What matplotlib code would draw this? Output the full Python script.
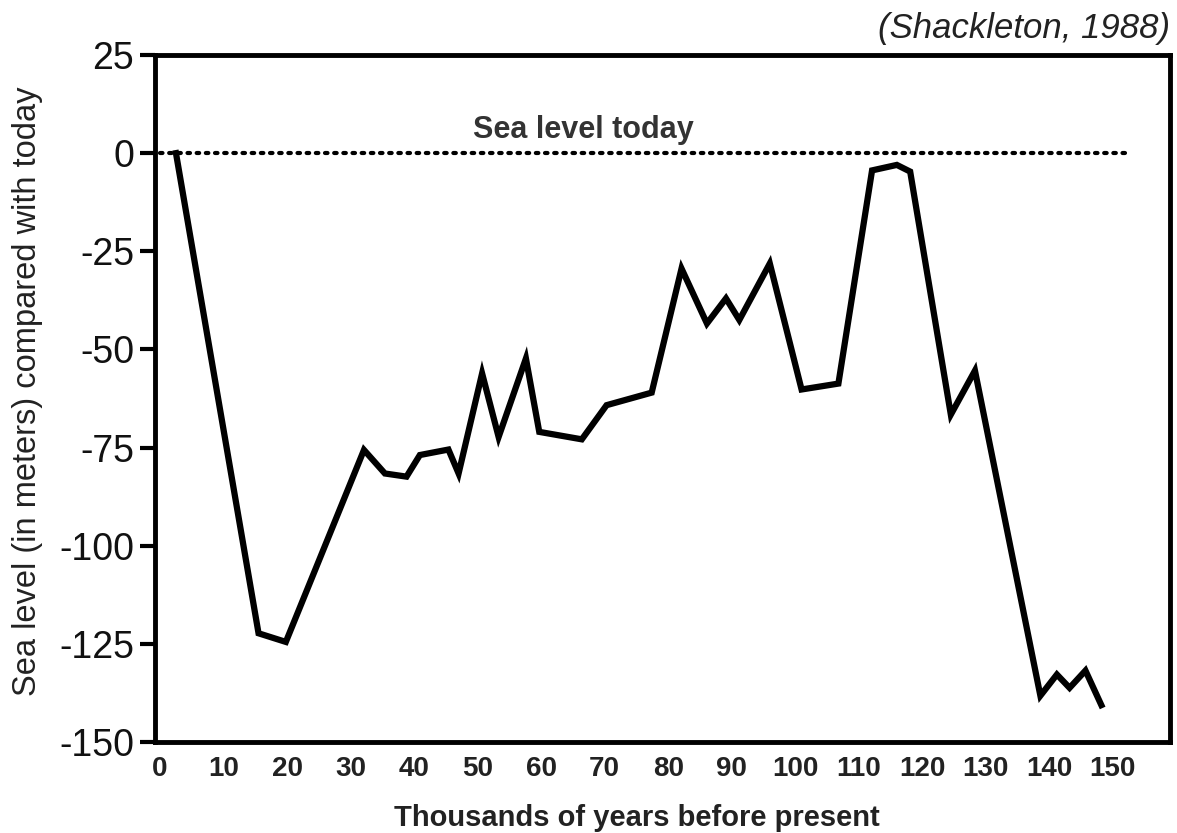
import matplotlib
matplotlib.use('Agg')
import matplotlib.pyplot as plt

# sea level curve
years_ka = [2.5, 15.5, 19.8, 32.1, 35.4, 38.8, 40.9, 45.4, 47.0, 50.7, 53.3, 57.6,
            59.7, 66.4, 70.3, 77.4, 82.1, 86.1, 89.1, 91.2, 96.0, 101.0, 106.8,
            112.1, 116.0, 118.1, 124.5, 128.3, 138.6, 141.2, 143.2, 145.7, 148.2]
sea_level_m = [0, -122.3, -124.5, -75.6, -81.6, -82.4, -76.9, -75.5, -81.6, -56.1, -72.3, -52.3,
               -71.0, -72.9, -64.2, -61.0, -29.4, -43.4, -37.0, -42.5, -28.1, -60.2, -58.7,
               -4.4, -3.0, -4.7, -66.6, -55.4, -138.2, -132.8, -136.2, -131.8, -140.6]

x_ticks = list(range(0, 151, 10))
y_ticks = [25, 0, -25, -50, -75, -100, -125, -150]
today_x = [0, 152]
today_y = [0, 0]

plt.rcParams['font.family'] = ['Liberation Sans', 'DejaVu Sans']
plt.rcParams['axes.unicode_minus'] = False
narrow = ['Liberation Sans Narrow', 'Liberation Sans', 'DejaVu Sans']

fig = plt.figure(figsize=(11.77, 8.33), dpi=100)
ax = fig.add_axes([0.1317, 0.1092, 0.8623, 0.8248])

ax.plot(today_x, today_y, color='black', lw=3, linestyle=(0, (0.6, 1.6)), dash_capstyle='round')
ax.plot(years_ka, sea_level_m, color='black', lw=4.5, solid_joinstyle='miter')

ax.set_xlim(-0.8, 159)
ax.set_ylim(-150, 25)
ax.set_yticks(y_ticks)
ax.set_xticks(x_ticks)
ax.set_xticklabels([str(t) for t in x_ticks], family=narrow, fontweight='bold', fontsize=20, color='#222222')
ax.tick_params(axis='y', length=11, width=3, labelsize=27, pad=4, labelcolor='#111111')
ax.tick_params(axis='x', length=0, pad=10)
for s in ax.spines.values():
	s.set_linewidth(3.5)

ax.text(66.6, 3.8, 'Sea level today', ha='center', va='baseline', fontsize=22, fontweight='bold', color='#333333')
fig.text(0.994, 0.966, '(Shackleton, 1988)', ha='right', va='center', fontsize=25, style='italic', color='#222222')

ax.set_xlabel('Thousands of years before present', family=narrow, fontweight='bold', fontsize=21, color='#222222')
ax.xaxis.set_label_coords(0.475, -0.111)
ax.xaxis.label.set_va('center')
ax.set_ylabel('Sea level (in meters) compared with today', fontsize=23.5, color='#222222')
ax.yaxis.set_label_coords(-0.126, 0.511)
ax.yaxis.label.set_va('center')

fig.savefig('out.png', dpi=100)
